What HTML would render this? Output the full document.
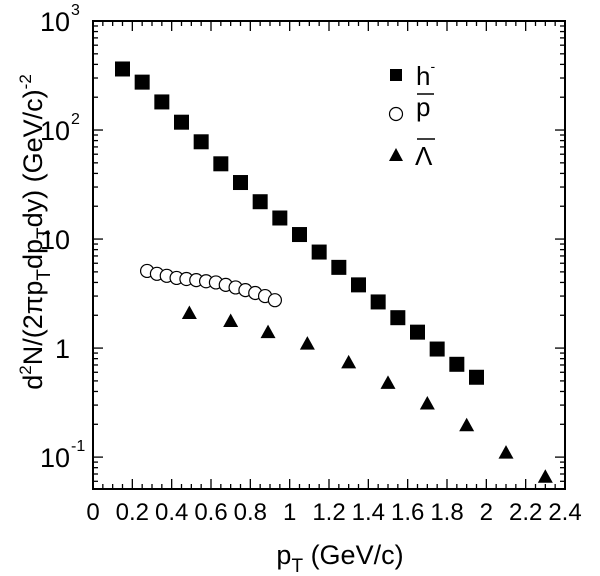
<!DOCTYPE html>
<html><head><meta charset="utf-8"><style>
html,body{margin:0;padding:0;background:#fff;}
svg{display:block;font-family:"Liberation Sans",sans-serif;}
</style></head><body>
<svg id="chart" width="600" height="576" viewBox="0 0 600 576">
<rect x="93" y="21" width="472" height="468" fill="none" stroke="#000" stroke-width="2"/>
<g id="ticks"></g>
<g id="marks"></g>
<text x="340" y="564" font-size="27" text-anchor="middle">p<tspan font-size="19" dy="8">T</tspan><tspan dy="-8"> (GeV/c)</tspan></text>
<text transform="translate(42,232) rotate(-90)" font-size="27" text-anchor="middle">d<tspan font-size="17" dy="-11">2</tspan><tspan dy="11">N/(2</tspan>πp<tspan font-size="19" dy="8">T</tspan><tspan dy="-8">dp</tspan><tspan font-size="19" dy="8">T</tspan><tspan dy="-8">dy) (GeV/c)</tspan><tspan font-size="17" dy="-11">-2</tspan></text>
<g>
<rect x="390" y="69" width="12" height="12" fill="#000"/>
<text x="416" y="85" font-size="26">h<tspan font-size="14" dy="-14">-</tspan></text>
<circle cx="396" cy="114" r="6.5" fill="none" stroke="#000" stroke-width="1.2"/>
<line x1="417" y1="94" x2="434" y2="94" stroke="#000" stroke-width="1.5"/>
<text x="416" y="116" font-size="26">p</text>
<polygon points="389,161 403,161 396,148" fill="#000"/>
<line x1="417" y1="139" x2="435" y2="139" stroke="#000" stroke-width="1.5"/>
<text x="415" y="165" font-size="26">Λ</text>
</g>
</svg>
<script>
const hPt=[0.15,0.25,0.35,0.45,0.55,0.65,0.75,0.85,0.95,1.05,1.15,1.25,1.35,1.45,1.55,1.65,1.75,1.85,1.95];
const hVal=[363,275,181,118,78,49,33,22,15.6,11,7.6,5.5,3.8,2.65,1.9,1.4,0.98,0.71,0.54];
const pPt=[0.275,0.325,0.375,0.425,0.475,0.525,0.575,0.625,0.675,0.725,0.775,0.825,0.875,0.925];
const pVal=[5.1,4.8,4.6,4.4,4.3,4.2,4.1,4.0,3.8,3.6,3.4,3.2,3.0,2.75];
const lPt=[0.49,0.70,0.89,1.09,1.30,1.50,1.70,1.90,2.10,2.30];
const lVal=[2.1,1.77,1.4,1.1,0.74,0.48,0.31,0.196,0.11,0.066];
const xTicks=["0","0.2","0.4","0.6","0.8","1","1.2","1.4","1.6","1.8","2","2.2","2.4"];
const yTicks=[["10","-1",0.1],["1","",1],["10","",10],["10","2",100],["10","3",1000]];
const NS="http://www.w3.org/2000/svg";
const X0=93,X1=565,Y0=489,Y1=21,XMAX=2.4,LMIN=-1.2925,LMAX=3;
function sx(v){return X0+(X1-X0)*v/XMAX;}
function sy(v){return Y0-(Y0-Y1)*(Math.log10(v)-LMIN)/(LMAX-LMIN);}
function mk(tag,attrs,parent){const e=document.createElementNS(NS,tag);for(const k in attrs)e.setAttribute(k,attrs[k]);parent.appendChild(e);return e;}
const T=document.getElementById('ticks'),M=document.getElementById('marks'),S=document.getElementById('chart');
for(let i=0;i<=48;i++){const x=sx(i*0.05);const L=(i%4===0)?10:5;
 mk('line',{x1:x,x2:x,y1:Y0,y2:Y0-L,stroke:'#000','stroke-width':1.3},T);
 mk('line',{x1:x,x2:x,y1:Y1,y2:Y1+L,stroke:'#000','stroke-width':1.3},T);}
xTicks.forEach((t,i)=>{const e=mk('text',{x:sx(i*0.2),y:520,'font-size':24,'text-anchor':'middle'},S);e.textContent=t;
 
 });
for(let d=-2;d<3;d++)for(let m=1;m<10;m++){const v=m*Math.pow(10,d);if(v<0.0511||v>1000)continue;const y=sy(v);const L=m===1?10:5;
 mk('line',{x1:X0,x2:X0+L,y1:y,y2:y,stroke:'#000','stroke-width':1.3},T);
 mk('line',{x1:X1,x2:X1-L,y1:y,y2:y,stroke:'#000','stroke-width':1.3},T);}
yTicks.forEach(t=>{const y=sy(t[2]);const e=mk('text',{x:70,y:y+10,'font-size':27,'text-anchor':'end'},S);
 e.textContent=t[0];
 if(t[1]){const s=mk('text',{x:71,y:y-6,'font-size':16},S);s.textContent=t[1];}
 
 });
hPt.forEach((p,i)=>{const x=sx(p),y=sy(hVal[i]);const e=mk('rect',{x:x-7.5,y:y-7.5,width:15,height:15,fill:'#000'},M);
 
 });
pPt.forEach((p,i)=>{const x=sx(p),y=sy(pVal[i]);const e=mk('circle',{cx:x,cy:y,r:6.5,fill:'#fff',stroke:'#000','stroke-width':1.2},M);
 
 });
lPt.forEach((p,i)=>{const x=sx(p),y=sy(lVal[i]);const e=mk('polygon',{points:`${x-7.5},${y+6} ${x+7.5},${y+6} ${x},${y-7.5}`,fill:'#000'},M);
 
 });
</script>
</body></html>
